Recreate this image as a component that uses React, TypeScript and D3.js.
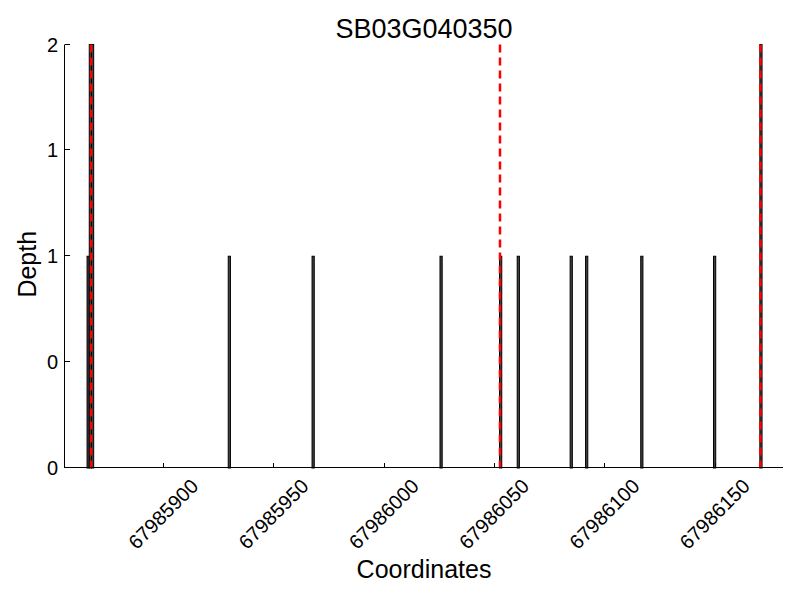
import React from "react";
import * as d3 from "d3";

const title = "SB03G040350";
const xLabel = "Coordinates";
const yLabel = "Depth";

const positions = [67985866, 67985867, 67985868, 67985930, 67985968, 67986026, 67986053, 67986061, 67986085, 67986092, 67986117, 67986150, 67986171];
const depths = [1, 2, 2, 1, 1, 1, 1, 1, 1, 1, 1, 1, 2];
const markers = [67985867.3, 67986052.7, 67986170.8];
const xTicks = [67985900, 67985950, 67986000, 67986050, 67986100, 67986150];
const yTicks = [0, 0.5, 1, 1.5, 2];
const xDomain = [67985855.5, 67986181];
const yDomain = [0, 2];

export default function App() {
  const W = 800, H = 600;
  const left = 65, right = 783, top = 44.5, bottom = 468;
  const x = d3.scaleLinear().domain(xDomain).range([left, right]);
  const y = d3.scaleLinear().domain(yDomain).range([bottom, top]);
  const font = "'Liberation Sans', Arial, sans-serif";
  return (
    <svg width={W} height={H} style={{ position: "absolute", left: 0, top: 0, background: "#fff" }} fontFamily={font}>
      <rect x={0} y={0} width={W} height={H} fill="#fff" />
      {positions.map((p, i) => (
        <rect key={i} x={x(p - 0.5)} y={y(depths[i])} width={x(p + 0.5) - x(p - 0.5)} height={y(0) - y(depths[i])}
          fill="#444" stroke="#000" strokeWidth={1} />
      ))}
      {markers.map((m, i) => (
        <line key={i} x1={x(m)} x2={x(m)} y1={top} y2={bottom} stroke="#ff0000" strokeWidth={2.5} strokeDasharray="8,5" />
      ))}
      <line x1={left - 0.5} x2={left - 0.5} y1={top} y2={bottom} stroke="#000" strokeWidth={1} />
      <line x1={left - 1} x2={right} y1={bottom - 0.5} y2={bottom - 0.5} stroke="#000" strokeWidth={1} />
      {xTicks.map((t) => (
        <g key={t}>
          <line x1={Math.round(x(t)) + 0.5} x2={Math.round(x(t)) + 0.5} y1={bottom} y2={bottom - 5} stroke="#000" strokeWidth={1} />
          <text transform={`translate(${x(t)},${bottom + 46}) rotate(-45)`} textAnchor="middle" dy="0.35em" fontSize={20} fill="#000">{t}</text>
        </g>
      ))}
      {yTicks.map((t) => (
        <g key={t}>
          <line x1={left} x2={left + 5} y1={Math.round(y(t)) - 0.5} y2={Math.round(y(t)) - 0.5} stroke="#000" strokeWidth={1} />
          <text x={left - 7} y={y(t)} dy="0.35em" textAnchor="end" fontSize={20} fill="#000">{Math.floor(t)}</text>
        </g>
      ))}
      <text x={(left + right) / 2} y={38} textAnchor="middle" fontSize={27} fill="#000">{title}</text>
      <text x={(left + right) / 2} y={578} textAnchor="middle" fontSize={25} fill="#000">{xLabel}</text>
      <text transform={`translate(36,${(top + bottom) / 2 + 8}) rotate(-90)`} textAnchor="middle" fontSize={25} fill="#000">{yLabel}</text>
    </svg>
  );
}
